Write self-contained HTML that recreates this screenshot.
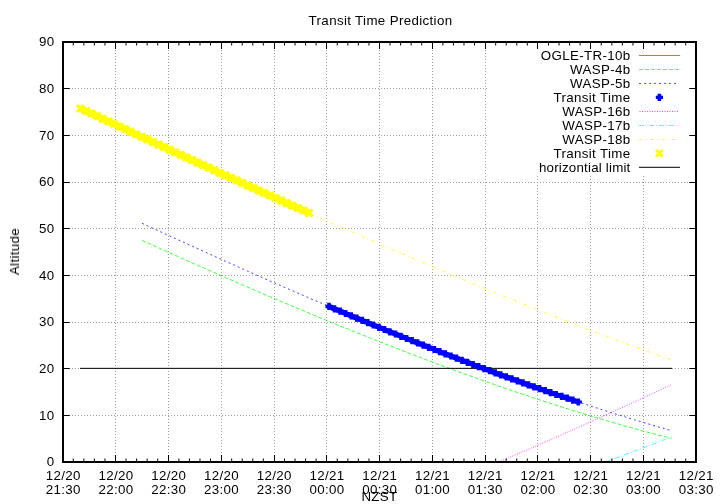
<!DOCTYPE html>
<html lang="en"><head><meta charset="utf-8"><title>Transit Time Prediction</title>
<style>html,body{margin:0;padding:0;background:#fff}svg{display:block}text{font-family:"Liberation Sans",Arial,sans-serif;font-size:13.33px;letter-spacing:.35px;fill:#000}</style></head><body>
<svg width="720" height="504" viewBox="0 0 720 504">
<defs><filter id="id" filterUnits="userSpaceOnUse" x="0" y="0" width="720" height="504" color-interpolation-filters="sRGB"><feOffset dx="0" dy="0"/></filter></defs>
<rect width="720" height="504" fill="#fff"/>
<g stroke="#a0a0a0" stroke-width="1" stroke-dasharray="1 2" shape-rendering="crispEdges" fill="none">
<path d="M63 415.5H696"/>
<path d="M63 368.5H696"/>
<path d="M63 322.5H696"/>
<path d="M63 275.5H696"/>
<path d="M63 228.5H696"/>
<path d="M63 182.5H696"/>
<path d="M63 135.5H696"/>
<path d="M63 88.5H696"/>
<path d="M115.5 462V42"/>
<path d="M168.5 462V42"/>
<path d="M221.5 462V42"/>
<path d="M274.5 462V42"/>
<path d="M326.5 462V42"/>
<path d="M379.5 462V42"/>
<path d="M432.5 462V42"/>
<path d="M485.5 462V42"/>
<path d="M537.5 462V42"/>
<path d="M590.5 462V42"/>
<path d="M643.5 462V42"/>
</g>
<rect x="487" y="43" width="208" height="132" fill="#fff"/>
<g>
<polyline fill="none" stroke="#00ff00" stroke-width=".75" stroke-dasharray="4 2" points="142.1,240.4 146.5,242.4 150.9,244.4 155.3,246.4 159.7,248.4 164.1,250.3 168.5,252.3 172.9,254.3 177.3,256.2 181.7,258.2 186.1,260.2 190.5,262.1 194.9,264.1 199.3,266.0 203.7,267.9 208.1,269.9 212.5,271.8 216.9,273.7 221.2,275.7 225.6,277.6 230.0,279.5 234.4,281.4 238.8,283.3 243.2,285.2 247.6,287.1 252.0,289.0 256.4,290.9 260.8,292.8 265.2,294.7 269.6,296.6 274.0,298.4 278.4,300.3 282.8,302.2 287.2,304.0 291.6,305.9 296.0,307.7 300.4,309.5 304.8,311.4 309.2,313.2 313.6,315.0 318.0,316.9 322.4,318.7 326.8,320.5 331.1,322.3 335.5,324.1 339.9,325.9 344.3,327.6 348.7,329.4 353.1,331.2 357.5,333.0 361.9,334.7 366.3,336.5 370.7,338.2 375.1,340.0 379.5,341.7 383.9,343.4 388.3,345.2 392.7,346.9 397.1,348.6 401.5,350.3 405.9,352.0 410.3,353.7 414.7,355.4 419.1,357.0 423.5,358.7 427.9,360.4 432.2,362.0 436.6,363.6 441.0,365.3 445.4,366.9 449.8,368.5 454.2,370.2 458.6,371.8 463.0,373.4 467.4,374.9 471.8,376.5 476.2,378.1 480.6,379.7 485.0,381.2 489.4,382.8 493.8,384.3 498.2,385.9 502.6,387.4 507.0,388.9 511.4,390.4 515.8,391.9 520.2,393.4 524.6,394.9 529.0,396.3 533.4,397.8 537.8,399.2 542.1,400.7 546.5,402.1 550.9,403.5 555.3,404.9 559.7,406.4 564.1,407.7 568.5,409.1 572.9,410.5 577.3,411.9 581.7,413.2 586.1,414.5 590.5,415.9 594.9,417.2 599.3,418.5 603.7,419.8 608.1,421.1 612.5,422.4 616.9,423.6 621.3,424.9 625.7,426.1 630.1,427.4 634.5,428.6 638.9,429.8 643.2,431.0 647.6,432.2 652.0,433.3 656.4,434.5 660.8,435.6 665.2,436.8 669.6,437.9 671.4,438.3"/>
<polyline fill="none" stroke="#0000ff" stroke-width=".75" stroke-dasharray="2 3" points="142.1,223.3 146.5,225.3 150.9,227.4 155.3,229.4 159.7,231.4 164.1,233.4 168.5,235.4 172.9,237.4 177.3,239.4 181.7,241.4 186.1,243.5 190.5,245.4 194.9,247.4 199.3,249.4 203.7,251.4 208.1,253.4 212.5,255.4 216.9,257.4 221.2,259.3 225.6,261.3 230.0,263.3 234.4,265.2 238.8,267.2 243.2,269.2 247.6,271.1 252.0,273.1 256.4,275.0 260.8,276.9 265.2,278.9 269.6,280.8 274.0,282.7 278.4,284.6 282.8,286.6 287.2,288.5 291.6,290.4 296.0,292.3 300.4,294.2 304.8,296.1 309.2,298.0 313.6,299.9 318.0,301.7 322.4,303.6 326.8,305.5 331.1,307.4 335.5,309.2 339.9,311.1 344.3,312.9 348.7,314.8 353.1,316.6 357.5,318.4 361.9,320.3 366.3,322.1 370.7,323.9 375.1,325.7 379.5,327.5 383.9,329.3 388.3,331.1 392.7,332.9 397.1,334.7 401.5,336.5 405.9,338.2 410.3,340.0 414.7,341.8 419.1,343.5 423.5,345.3 427.9,347.0 432.2,348.7 436.6,350.5 441.0,352.2 445.4,353.9 449.8,355.6 454.2,357.3 458.6,359.0 463.0,360.7 467.4,362.3 471.8,364.0 476.2,365.7 480.6,367.3 485.0,369.0 489.4,370.6 493.8,372.2 498.2,373.9 502.6,375.5 507.0,377.1 511.4,378.7 515.8,380.3 520.2,381.8 524.6,383.4 529.0,385.0 533.4,386.5 537.8,388.1 542.1,389.6 546.5,391.2 550.9,392.7 555.3,394.2 559.7,395.7 564.1,397.2 568.5,398.7 572.9,400.2 577.3,401.6 581.7,403.1 586.1,404.5 590.5,406.0 594.9,407.4 599.3,408.8 603.7,410.2 608.1,411.6 612.5,413.0 616.9,414.4 621.3,415.8 625.7,417.1 630.1,418.5 634.5,419.8 638.9,421.1 643.2,422.4 647.6,423.7 652.0,425.0 656.4,426.3 660.8,427.6 665.2,428.8 669.6,430.1 671.4,430.6"/>
<polyline fill="none" stroke="#ff00ff" stroke-width=".75" stroke-dasharray="1 1.5" points="498.5,462.0 502.6,460.3 507.0,458.4 511.4,456.6 515.8,454.7 520.2,452.8 524.6,450.9 529.0,449.1 533.4,447.2 537.8,445.3 542.1,443.3 546.5,441.4 550.9,439.5 555.3,437.6 559.7,435.6 564.1,433.7 568.5,431.7 572.9,429.8 577.3,427.8 581.7,425.9 586.1,423.9 590.5,421.9 594.9,419.9 599.3,418.0 603.7,416.0 608.1,414.0 612.5,412.0 616.9,410.0 621.3,408.0 625.7,405.9 630.1,403.9 634.5,401.9 638.9,399.9 643.2,397.8 647.6,395.8 652.0,393.8 656.4,391.7 660.8,389.7 665.2,387.6 669.6,385.6 671.4,384.8"/>
<polyline fill="none" stroke="#00ffff" stroke-width=".75" stroke-dasharray="5 2 1 2" points="605.2,462.0 608.1,460.9 612.5,459.3 616.9,457.7 621.3,456.1 625.7,454.5 630.1,452.8 634.5,451.2 638.9,449.5 643.2,447.8 647.6,446.1 652.0,444.5 656.4,442.8 660.8,441.0 665.2,439.3 669.6,437.6 671.4,436.9"/>
<polyline fill="none" stroke="#ffff00" stroke-width=".75" stroke-dasharray="4 3 1 3" points="80.6,108.5 85.0,110.5 89.4,112.6 93.8,114.6 98.2,116.7 102.6,118.7 107.0,120.8 111.4,122.8 115.8,124.8 120.1,126.9 124.5,128.9 128.9,131.0 133.3,133.0 137.7,135.0 142.1,137.1 146.5,139.1 150.9,141.1 155.3,143.2 159.7,145.2 164.1,147.2 168.5,149.2 172.9,151.3 177.3,153.3 181.7,155.3 186.1,157.3 190.5,159.4 194.9,161.4 199.3,163.4 203.7,165.4 208.1,167.4 212.5,169.4 216.9,171.4 221.2,173.4 225.6,175.4 230.0,177.4 234.4,179.4 238.8,181.4 243.2,183.4 247.6,185.4 252.0,187.4 256.4,189.4 260.8,191.4 265.2,193.4 269.6,195.4 274.0,197.3 278.4,199.3 282.8,201.3 287.2,203.3 291.6,205.2 296.0,207.2 300.4,209.2 304.8,211.1 309.2,213.1 313.6,215.0 318.0,217.0 322.4,218.9 326.8,220.9 331.1,222.8 335.5,224.8 339.9,226.7 344.3,228.6 348.7,230.6 353.1,232.5 357.5,234.4 361.9,236.4 366.3,238.3 370.7,240.2 375.1,242.1 379.5,244.0 383.9,245.9 388.3,247.8 392.7,249.7 397.1,251.6 401.5,253.5 405.9,255.4 410.3,257.2 414.7,259.1 419.1,261.0 423.5,262.9 427.9,264.7 432.2,266.6 436.6,268.4 441.0,270.3 445.4,272.1 449.8,274.0 454.2,275.8 458.6,277.7 463.0,279.5 467.4,281.3 471.8,283.1 476.2,285.0 480.6,286.8 485.0,288.6 489.4,290.4 493.8,292.2 498.2,294.0 502.6,295.8 507.0,297.5 511.4,299.3 515.8,301.1 520.2,302.8 524.6,304.6 529.0,306.4 533.4,308.1 537.8,309.9 542.1,311.6 546.5,313.3 550.9,315.0 555.3,316.8 559.7,318.5 564.1,320.2 568.5,321.9 572.9,323.6 577.3,325.3 581.7,327.0 586.1,328.6 590.5,330.3 594.9,332.0 599.3,333.6 603.7,335.3 608.1,336.9 612.5,338.6 616.9,340.2 621.3,341.8 625.7,343.5 630.1,345.1 634.5,346.7 638.9,348.3 643.2,349.9 647.6,351.4 652.0,353.0 656.4,354.6 660.8,356.1 665.2,357.7 669.6,359.2 671.4,359.9"/>
<path d="M80 368.35H672" stroke="#000" stroke-width="1"/>
<defs><path id="pl" d="M-3.6 -1.6h1.8v-2h3.6v2h1.8v3.2h-1.8v2h-3.6v-2h-1.8z" fill="#0000ff"/>
<path id="xx" d="M-3.5 -3.5L3.5 3.5M-3.5 3.5L3.5 -3.5" stroke="#ffff00" stroke-width="3.1" fill="none"/><path id="xl" d="M-3.3 -3.3L3.3 3.3M-3.3 3.3L3.3 -3.3" stroke="#ffff00" stroke-width="2.9" fill="none"/></defs>
<polyline fill="none" stroke="#ffff00" stroke-width="6.9" points="80.5,108.5 86.1,111.1 91.6,113.6 97.2,116.2 102.8,118.8 108.4,121.4 113.9,124.0 119.5,126.6 125.1,129.2 130.7,131.8 136.2,134.3 141.8,136.9 147.4,139.5 153.0,142.1 158.5,144.6 164.1,147.2 169.7,149.8 175.2,152.3 180.8,154.9 186.4,157.5 192.0,160.0 197.5,162.6 203.1,165.1 208.7,167.7 214.3,170.2 219.8,172.8 225.4,175.3 231.0,177.9 236.5,180.4 242.1,182.9 247.7,185.5 253.3,188.0 258.8,190.5 264.4,193.0 270.0,195.5 275.6,198.0 281.1,200.6 286.7,203.1 292.3,205.6 297.9,208.0 303.4,210.5 309.0,213.0"/>
<g><use href="#xx" x="80.5" y="108.5"/><use href="#xx" x="86.1" y="111.1"/><use href="#xx" x="91.6" y="113.6"/><use href="#xx" x="97.2" y="116.2"/><use href="#xx" x="102.8" y="118.8"/><use href="#xx" x="108.4" y="121.4"/><use href="#xx" x="113.9" y="124.0"/><use href="#xx" x="119.5" y="126.6"/><use href="#xx" x="125.1" y="129.2"/><use href="#xx" x="130.7" y="131.8"/><use href="#xx" x="136.2" y="134.3"/><use href="#xx" x="141.8" y="136.9"/><use href="#xx" x="147.4" y="139.5"/><use href="#xx" x="153.0" y="142.1"/><use href="#xx" x="158.5" y="144.6"/><use href="#xx" x="164.1" y="147.2"/><use href="#xx" x="169.7" y="149.8"/><use href="#xx" x="175.2" y="152.3"/><use href="#xx" x="180.8" y="154.9"/><use href="#xx" x="186.4" y="157.5"/><use href="#xx" x="192.0" y="160.0"/><use href="#xx" x="197.5" y="162.6"/><use href="#xx" x="203.1" y="165.1"/><use href="#xx" x="208.7" y="167.7"/><use href="#xx" x="214.3" y="170.2"/><use href="#xx" x="219.8" y="172.8"/><use href="#xx" x="225.4" y="175.3"/><use href="#xx" x="231.0" y="177.9"/><use href="#xx" x="236.5" y="180.4"/><use href="#xx" x="242.1" y="182.9"/><use href="#xx" x="247.7" y="185.5"/><use href="#xx" x="253.3" y="188.0"/><use href="#xx" x="258.8" y="190.5"/><use href="#xx" x="264.4" y="193.0"/><use href="#xx" x="270.0" y="195.5"/><use href="#xx" x="275.6" y="198.0"/><use href="#xx" x="281.1" y="200.6"/><use href="#xx" x="286.7" y="203.1"/><use href="#xx" x="292.3" y="205.6"/><use href="#xx" x="297.9" y="208.0"/><use href="#xx" x="303.4" y="210.5"/><use href="#xx" x="309.0" y="213.0"/></g>
<polyline fill="none" stroke="#0000ff" stroke-width="5" points="329.0,306.4 334.5,308.8 340.1,311.1 345.6,313.5 351.2,315.8 356.7,318.1 362.2,320.4 367.8,322.7 373.3,325.0 378.9,327.3 384.4,329.5 389.9,331.8 395.5,334.0 401.0,336.3 406.6,338.5 412.1,340.7 417.6,342.9 423.2,345.1 428.7,347.3 434.3,349.5 439.8,351.7 445.3,353.8 450.9,356.0 456.4,358.1 462.0,360.3 467.5,362.4 473.0,364.5 478.6,366.6 484.1,368.6 489.7,370.7 495.2,372.8 500.7,374.8 506.3,376.8 511.8,378.8 517.4,380.8 522.9,382.8 528.4,384.8 534.0,386.8 539.5,388.7 545.1,390.7 550.6,392.6 556.1,394.5 561.7,396.4 567.2,398.2 572.8,400.1 578.3,402.0"/>
<g><use href="#pl" x="329.0" y="306.4"/><use href="#pl" x="334.5" y="308.8"/><use href="#pl" x="340.1" y="311.1"/><use href="#pl" x="345.6" y="313.5"/><use href="#pl" x="351.2" y="315.8"/><use href="#pl" x="356.7" y="318.1"/><use href="#pl" x="362.2" y="320.4"/><use href="#pl" x="367.8" y="322.7"/><use href="#pl" x="373.3" y="325.0"/><use href="#pl" x="378.9" y="327.3"/><use href="#pl" x="384.4" y="329.5"/><use href="#pl" x="389.9" y="331.8"/><use href="#pl" x="395.5" y="334.0"/><use href="#pl" x="401.0" y="336.3"/><use href="#pl" x="406.6" y="338.5"/><use href="#pl" x="412.1" y="340.7"/><use href="#pl" x="417.6" y="342.9"/><use href="#pl" x="423.2" y="345.1"/><use href="#pl" x="428.7" y="347.3"/><use href="#pl" x="434.3" y="349.5"/><use href="#pl" x="439.8" y="351.7"/><use href="#pl" x="445.3" y="353.8"/><use href="#pl" x="450.9" y="356.0"/><use href="#pl" x="456.4" y="358.1"/><use href="#pl" x="462.0" y="360.3"/><use href="#pl" x="467.5" y="362.4"/><use href="#pl" x="473.0" y="364.5"/><use href="#pl" x="478.6" y="366.6"/><use href="#pl" x="484.1" y="368.6"/><use href="#pl" x="489.7" y="370.7"/><use href="#pl" x="495.2" y="372.8"/><use href="#pl" x="500.7" y="374.8"/><use href="#pl" x="506.3" y="376.8"/><use href="#pl" x="511.8" y="378.8"/><use href="#pl" x="517.4" y="380.8"/><use href="#pl" x="522.9" y="382.8"/><use href="#pl" x="528.4" y="384.8"/><use href="#pl" x="534.0" y="386.8"/><use href="#pl" x="539.5" y="388.7"/><use href="#pl" x="545.1" y="390.7"/><use href="#pl" x="550.6" y="392.6"/><use href="#pl" x="556.1" y="394.5"/><use href="#pl" x="561.7" y="396.4"/><use href="#pl" x="567.2" y="398.2"/><use href="#pl" x="572.8" y="400.1"/><use href="#pl" x="578.3" y="402.0"/></g>
<g stroke="#000" shape-rendering="crispEdges" fill="none">
<rect x="63" y="42" width="633" height="420" stroke-width="2"/>
<path stroke-width="1" shape-rendering="auto" d="M64 415.5h5.7M695 415.5h-5.7M64 368.5h5.7M695 368.5h-5.7M64 322.5h5.7M695 322.5h-5.7M64 275.5h5.7M695 275.5h-5.7M64 228.5h5.7M695 228.5h-5.7M64 182.5h5.7M695 182.5h-5.7M64 135.5h5.7M695 135.5h-5.7M64 88.5h5.7M695 88.5h-5.7M73.26 461v-2.5M73.26 43v2.5M83.82 461v-2.5M83.82 43v2.5M94.38 461v-2.5M94.38 43v2.5M104.94 461v-2.5M104.94 43v2.5M115.5 461v-6M115.5 43v6M126.06 461v-2.5M126.06 43v2.5M136.62 461v-2.5M136.62 43v2.5M147.18 461v-2.5M147.18 43v2.5M157.74 461v-2.5M157.74 43v2.5M168.5 461v-6M168.5 43v6M178.86 461v-2.5M178.86 43v2.5M189.42 461v-2.5M189.42 43v2.5M199.98 461v-2.5M199.98 43v2.5M210.54 461v-2.5M210.54 43v2.5M221.5 461v-6M221.5 43v6M231.66 461v-2.5M231.66 43v2.5M242.22 461v-2.5M242.22 43v2.5M252.78 461v-2.5M252.78 43v2.5M263.34 461v-2.5M263.34 43v2.5M274.5 461v-6M274.5 43v6M284.46 461v-2.5M284.46 43v2.5M295.02 461v-2.5M295.02 43v2.5M305.58 461v-2.5M305.58 43v2.5M316.14 461v-2.5M316.14 43v2.5M326.5 461v-6M326.5 43v6M337.26 461v-2.5M337.26 43v2.5M347.82 461v-2.5M347.82 43v2.5M358.38 461v-2.5M358.38 43v2.5M368.94 461v-2.5M368.94 43v2.5M379.5 461v-6M379.5 43v6M390.06 461v-2.5M390.06 43v2.5M400.62 461v-2.5M400.62 43v2.5M411.18 461v-2.5M411.18 43v2.5M421.74 461v-2.5M421.74 43v2.5M432.5 461v-6M432.5 43v6M442.86 461v-2.5M442.86 43v2.5M453.42 461v-2.5M453.42 43v2.5M463.98 461v-2.5M463.98 43v2.5M474.54 461v-2.5M474.54 43v2.5M485.5 461v-6M485.5 43v6M495.66 461v-2.5M495.66 43v2.5M506.22 461v-2.5M506.22 43v2.5M516.78 461v-2.5M516.78 43v2.5M527.34 461v-2.5M527.34 43v2.5M537.5 461v-6M537.5 43v6M548.46 461v-2.5M548.46 43v2.5M559.02 461v-2.5M559.02 43v2.5M569.58 461v-2.5M569.58 43v2.5M580.14 461v-2.5M580.14 43v2.5M590.5 461v-6M590.5 43v6M601.26 461v-2.5M601.26 43v2.5M611.82 461v-2.5M611.82 43v2.5M622.38 461v-2.5M622.38 43v2.5M632.94 461v-2.5M632.94 43v2.5M643.5 461v-6M643.5 43v6M654.06 461v-2.5M654.06 43v2.5M664.62 461v-2.5M664.62 43v2.5M675.18 461v-2.5M675.18 43v2.5M685.74 461v-2.5M685.74 43v2.5"/>
</g>
<path d="M639 55.45H680" stroke="#ff0000" stroke-width=".7"/>
<path d="M639 69.45H680" stroke="#00ff00" stroke-width=".7" stroke-dasharray="4 2"/>
<path d="M639 83.45H677" stroke="#0000ff" stroke-width=".7" stroke-dasharray="2 3"/>
<path d="M639 111.45H678" stroke="#ff00ff" stroke-opacity=".4" stroke-dasharray="2 3"/><path d="M639 111.45H678" stroke="#ff00ff" stroke-opacity=".8" stroke-dasharray="1 4" stroke-dashoffset="-3"/>
<path d="M639 125.45H678" stroke="#00ffff" stroke-width=".7" stroke-dasharray="5 2 1 2"/>
<path d="M639 139.45H677" stroke="#ffff00" stroke-width=".7" stroke-dasharray="4 3 1 3"/>
<path d="M639 167.3H680" stroke="#000000" stroke-width="1"/>
<use href="#pl" x="659.4" y="97.4"/><use href="#xl" x="659.4" y="153.3"/>
</g><g filter="url(#id)">
<text x="380.5" y="25" text-anchor="middle">Transit Time Prediction</text>
<text transform="translate(19,251.5) rotate(-90)" text-anchor="middle">Altitude</text>
<text x="379.5" y="501" text-anchor="middle">NZST</text>
<text x="54.6" y="466.2" text-anchor="end">0</text>
<text x="54.6" y="419.5" text-anchor="end">10</text>
<text x="54.6" y="372.9" text-anchor="end">20</text>
<text x="54.6" y="326.2" text-anchor="end">30</text>
<text x="54.6" y="279.5" text-anchor="end">40</text>
<text x="54.6" y="232.9" text-anchor="end">50</text>
<text x="54.6" y="186.2" text-anchor="end">60</text>
<text x="54.6" y="139.5" text-anchor="end">70</text>
<text x="54.6" y="92.9" text-anchor="end">80</text>
<text x="54.6" y="46.2" text-anchor="end">90</text>
<text x="63.3" y="480" text-anchor="middle">12/20</text><text x="63.3" y="494" text-anchor="middle">21:30</text>
<text x="116.0" y="480" text-anchor="middle">12/20</text><text x="116.0" y="494" text-anchor="middle">22:00</text>
<text x="168.8" y="480" text-anchor="middle">12/20</text><text x="168.8" y="494" text-anchor="middle">22:30</text>
<text x="221.6" y="480" text-anchor="middle">12/20</text><text x="221.6" y="494" text-anchor="middle">23:00</text>
<text x="274.3" y="480" text-anchor="middle">12/20</text><text x="274.3" y="494" text-anchor="middle">23:30</text>
<text x="327.1" y="480" text-anchor="middle">12/21</text><text x="327.1" y="494" text-anchor="middle">00:00</text>
<text x="379.8" y="480" text-anchor="middle">12/21</text><text x="379.8" y="494" text-anchor="middle">00:30</text>
<text x="432.6" y="480" text-anchor="middle">12/21</text><text x="432.6" y="494" text-anchor="middle">01:00</text>
<text x="485.3" y="480" text-anchor="middle">12/21</text><text x="485.3" y="494" text-anchor="middle">01:30</text>
<text x="538.0" y="480" text-anchor="middle">12/21</text><text x="538.0" y="494" text-anchor="middle">02:00</text>
<text x="590.8" y="480" text-anchor="middle">12/21</text><text x="590.8" y="494" text-anchor="middle">02:30</text>
<text x="643.5" y="480" text-anchor="middle">12/21</text><text x="643.5" y="494" text-anchor="middle">03:00</text>
<text x="696.3" y="480" text-anchor="middle">12/21</text><text x="696.3" y="494" text-anchor="middle">03:30</text>
<text x="630.5" y="60" text-anchor="end">OGLE-TR-10b</text>
<text x="630.5" y="74" text-anchor="end">WASP-4b</text>
<text x="630.5" y="88" text-anchor="end">WASP-5b</text>
<text x="630.5" y="102" text-anchor="end">Transit Time</text>
<text x="630.5" y="116" text-anchor="end">WASP-16b</text>
<text x="630.5" y="130" text-anchor="end">WASP-17b</text>
<text x="630.5" y="144" text-anchor="end">WASP-18b</text>
<text x="630.5" y="158" text-anchor="end">Transit Time</text>
<text x="630.5" y="172" text-anchor="end" style="letter-spacing:.2px">horizontial limit</text>
</g></svg></body></html>
